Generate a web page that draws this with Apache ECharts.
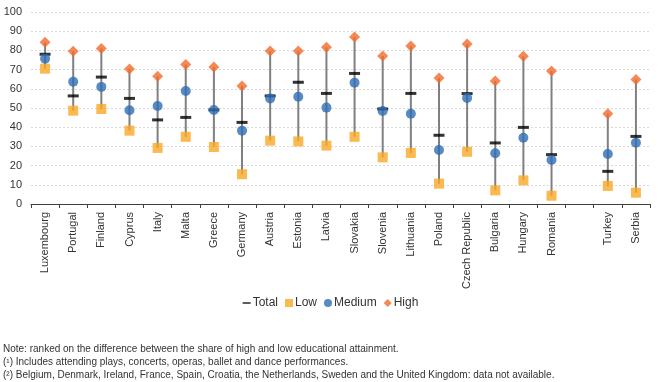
<!DOCTYPE html>
<html><head><meta charset="utf-8">
<script src="https://cdn.jsdelivr.net/npm/echarts@6/dist/echarts.min.js"></script>
<style>html,body{margin:0;padding:0;background:#fff}#c{width:661px;height:382px}</style>
</head><body><div id="c"></div>
<script>
const categories = ['Luxembourg','Portugal','Finland','Cyprus','Italy','Malta','Greece','Germany','Austria','Estonia','Latvia','Slovakia','Slovenia','Lithuania','Poland','Czech Republic','Bulgaria','Hungary','Romania','','Turkey','Serbia'];
const totalVals  = [78, 56.3, 66.1, 55, 43.8, 45.1, 49, 42.5, 56.3, 63.4, 57.6, 68, 49.5, 57.6, 35.8, 57.5, 31.8, 39.9, 25.7, null, 17, 35.2];
const lowVals    = [70.5, 48.6, 49.5, 38.2, 29.2, 35, 29.7, 15.5, 33, 32.6, 30.4, 35, 24.3, 26.6, 10.6, 27.2, 7.1, 12.3, 4.3, null, 9.4, 5.9];
const mediumVals = [75.7, 63.7, 61, 48.8, 51, 58.9, 49, 38.2, 55, 55.9, 50.2, 63.2, 48.4, 47, 28.1, 55.2, 26.4, 34.5, 22.9, null, 26, 31.9];
const highVals   = [84.2, 79.5, 81, 70.3, 66.5, 72.6, 71.4, 61.5, 79.7, 79.7, 81.6, 87, 77.1, 82.3, 65.6, 83.3, 64.1, 76.9, 69.3, null, 47, 64.9];
const yTicks = {min: 0, max: 100, interval: 10};
const notes = [
  'Note: ranked on the difference between the share of high and low educational attainment.',
  '(\u00B9) Includes attending plays, concerts, operas, ballet and dance performances.',
  '(\u00B2) Belgium, Denmark, Ireland, France, Spain, Croatia, the Netherlands, Sweden and the United Kingdom: data not available.'
];

const rangeData = categories.map((c, i) => lowVals[i] == null ? [i, null, null] : [i, lowVals[i], highVals[i]]);
const font = 'Liberation Sans Narrow, Arial Narrow, Arial, sans-serif';

const chart = echarts.init(document.getElementById('c'), null, {renderer: 'canvas'});
chart.setOption({
  animation: false,
  grid: {left: 31, right: 11, top: 12, bottom: 178},
  xAxis: {
    type: 'category', data: categories, boundaryGap: true,
    axisLine: {lineStyle: {color: '#404040', width: 1}},
    axisTick: {show: true, interval: 0, length: 4, lineStyle: {color: '#404040'}},
    axisLabel: {interval: 0, rotate: 90, margin: 8, color: '#333', fontFamily: 'Liberation Sans, Arial, sans-serif', fontSize: 11}
  },
  yAxis: {
    type: 'value', min: yTicks.min, max: yTicks.max, interval: yTicks.interval,
    axisLine: {show: false}, axisTick: {show: false},
    axisLabel: {color: '#333', fontFamily: 'Liberation Sans, Arial, sans-serif', fontSize: 11, margin: 9},
    splitLine: {lineStyle: {color: '#d9d9d9', type: [2, 2], width: 1}}
  },
  legend: {
    top: 292, left: 'center', itemGap: 7, itemWidth: 8, itemHeight: 8,
    textStyle: {fontFamily: font, fontSize: 12, color: '#333', padding: [0, 0, 0, -3]},
    data: [
      {name: 'Total', icon: 'path://M0,4 L10,4 L10,6 L0,6 Z', itemStyle: {color: '#000'}},
      {name: 'Low', icon: 'rect'},
      {name: 'Medium', icon: 'circle'},
      {name: 'High', icon: 'diamond'}
    ]
  },
  graphic: notes.map((t, i) => ({
    type: 'text', left: 3, top: 344 + i * 13,
    style: {text: t, fill: '#333', font: '10px ' + font}
  })),
  series: [
    {
      type: 'custom', name: 'range', data: rangeData, encode: {x: 0, y: [1, 2]}, silent: true, z: 1,
      renderItem: function (params, api) {
        if (api.value(1) == null || isNaN(api.value(1))) return null;
        const x = api.value(0);
        const p1 = api.coord([x, api.value(1)]);
        const p2 = api.coord([x, api.value(2)]);
        return {type: 'line', shape: {x1: p1[0], y1: p1[1], x2: p2[0], y2: p2[1]}, style: {stroke: '#808080', lineWidth: 2}};
      }
    },
    {name: 'Total', type: 'scatter', data: totalVals, symbol: 'rect', symbolSize: [11, 3], itemStyle: {color: '#000'}, z: 2},
    {name: 'Low', type: 'scatter', data: lowVals, symbol: 'rect', symbolSize: 10, itemStyle: {color: '#F9A825'}, z: 3},
    {name: 'Medium', type: 'scatter', data: mediumVals, symbol: 'circle', symbolSize: 10, itemStyle: {color: '#2E6DB4'}, z: 4},
    {name: 'High', type: 'scatter', data: highVals, symbol: 'diamond', symbolSize: 11, itemStyle: {color: '#F26B2A'}, z: 5}
  ]
});
</script></body></html>
